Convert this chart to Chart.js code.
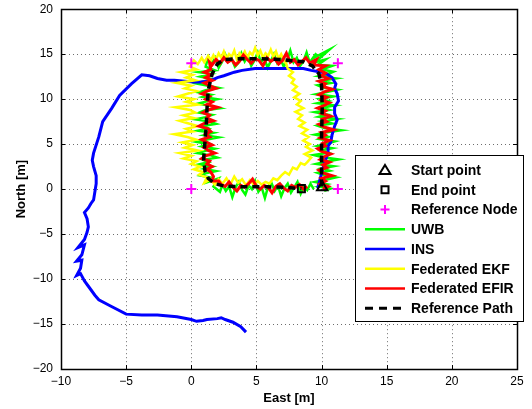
<!DOCTYPE html>
<html>
<head>
<meta charset="utf-8">
<script src="https://cdn.jsdelivr.net/npm/chart.js@4.4.0/dist/chart.umd.min.js"></script>
<style>
  html, body { margin: 0; padding: 0; background: #fff; }
  #wrap { width: 532px; height: 409px; }
</style>
</head>
<body>
<div id="wrap"><canvas id="c" width="532" height="409"></canvas></div>
<script>
// axis ranges and ticks (metres)
const xTicks = [-10, -5, 0, 5, 10, 15, 20, 25];
const yTicks = [-20, -15, -10, -5, 0, 5, 10, 15, 20];

const startPoint = [10.05, 0.2];
const endPoint = [8.45, 0.05];
const refNodes = [[0, 0], [0, 14], [11.25, 14], [11.25, 0]];

// UWB only solution
const uwbPath = [
  [10.2,-0.2],[10.7,0.05],[9.8,0.3],[10.4,0.55],[9.5,0.8],[10.3,1.05],[11.1,1.3],[10.2,1.55],[9.7,1.8],[10.6,2.05],
  [10.0,2.3],[10.9,2.55],[9.6,2.8],[10.3,3.05],[11.3,3.3],[10.1,3.55],[9.4,3.8],[10.5,4.05],[10.0,4.3],[10.8,4.55],
  [9.7,4.8],[10.4,5.05],[11.0,5.3],[9.9,5.55],[10.5,5.8],[9.5,6.05],[10.3,6.3],[11.5,6.55],[10.2,6.8],[9.7,7.05],
  [10.8,7.3],[10.1,7.55],[11.2,7.8],[9.8,8.05],[10.4,8.3],[9.5,8.55],[10.6,8.8],[10.0,9.05],[11.0,9.3],[9.7,9.55],
  [10.5,9.8],[9.9,10.05],[10.9,10.3],[9.6,10.55],[10.4,10.8],[11.2,11.05],[10.1,11.3],[9.7,11.55],[10.7,11.8],[10.0,12.05],
  [11.1,12.3],[9.8,12.55],[10.5,12.8],[10.9,13.05],[10.0,13.3],[10.8,13.7],[9.7,13.8],[10.3,14.4],[9.5,14.1],[10.6,15.5],
  [9.3,14.5],[9.6,15.1],[9.1,14.0],[8.85,15.2],[8.6,14.2],[8.35,13.7],[8.1,14.6],[7.85,14.1],[7.6,15.4],[7.35,14.3],
  [7.1,13.6],[6.85,14.5],[6.6,14.0],[6.35,15.0],[6.1,14.2],[5.85,13.5],[5.6,14.6],[5.35,14.1],[5.1,15.2],[4.85,14.3],
  [4.6,13.7],[4.35,14.8],[4.1,14.2],[3.85,15.1],[3.6,14.0],[3.35,13.6],[3.1,14.5],[2.85,14.2],[2.6,15.0],[2.35,14.1],
  [2.1,13.5],[1.85,14.6],[1.6,14.0],[1.3,14.7],[1.1,13.6],[1.8,13.2],[0.6,13.0],[1.5,12.8],[0.7,12.5],[1.6,12.25],
  [1.0,12.0],[0.4,11.75],[1.3,11.5],[2.1,11.25],[1.1,11.0],[0.6,10.75],[1.5,10.5],[0.9,10.25],[2.0,10.0],[1.2,9.75],
  [0.5,9.5],[1.4,9.25],[2.2,9.0],[1.0,8.75],[0.6,8.5],[1.6,8.25],[1.1,8.0],[0.3,7.75],[1.4,7.5],[1.9,7.25],
  [0.9,7.0],[1.3,6.75],[0.5,6.5],[1.7,6.25],[1.0,6.0],[2.1,5.75],[1.2,5.5],[0.4,5.25],[1.3,5.0],[0.8,4.75],
  [1.8,4.5],[1.1,4.25],[0.5,4.0],[1.5,3.75],[2.0,3.5],[0.9,3.25],[1.3,3.0],[0.6,2.75],[1.6,2.5],[1.0,2.25],
  [1.9,2.0],[1.1,1.75],[0.7,1.5],[1.6,1.25],[1.3,0.8],[2.1,1.2],[1.7,0.3],[2.2,-0.3],[2.4,0.5],[2.65,-0.2],
  [2.9,0.3],[3.15,-0.9],[3.4,0.2],[3.65,0.8],[3.9,-0.1],[4.15,-0.6],[4.4,0.4],[4.65,0.0],[4.9,0.9],[5.15,-0.3],
  [5.4,0.2],[5.65,-1.0],[5.9,0.3],[6.15,0.7],[6.4,-0.2],[6.65,0.4],[6.9,-0.8],[7.15,0.1],[7.4,0.6],[7.65,-0.4],
  [7.9,0.2],[8.15,0.8],[8.4,-0.5],[8.65,0.3],[8.9,-0.1],[9.15,0.6],[9.4,0.0]
];

// INS only solution (drifts away)
const insPath = [
  [9.7,0.1],[9.9,1.2],[10.1,2.3],[10.3,3.2],[10.5,4.1],[10.5,4.8],[10.7,5.2],[10.8,6.0],[11.0,7.0],[11.2,7.7],
  [11.0,8.4],[11.0,9.1],[11.3,9.8],[11.2,10.6],[11.0,11.2],[11.1,11.7],[10.8,12.4],[10.4,12.8],[10.0,13.0],[9.2,13.2],
  [8.6,13.4],[7.3,13.4],[6.0,13.4],[4.9,13.4],[3.9,13.2],[3.3,13.0],[2.5,12.6],[2.0,12.4],[1.4,12.0],[0.7,11.9],
  [0.2,11.9],[-0.5,12.0],[-1.3,12.1],[-1.9,12.1],[-2.6,12.3],[-3.2,12.6],[-3.8,12.7],[-4.6,11.7],[-5.5,10.4],[-6.1,9.0],
  [-6.8,7.5],[-7.1,5.8],[-7.5,4.0],[-7.6,3.2],[-7.5,2.5],[-7.3,1.5],[-7.3,0.6],[-7.5,-1.2],[-7.7,-1.6],[-7.9,-2.1],
  [-8.2,-2.6],[-8.0,-3.3],[-7.9,-4.2],[-8.0,-4.8],[-8.2,-5.6],[-8.7,-6.5],[-8.2,-6.2],[-8.4,-7.3],[-8.8,-8.0],[-8.4,-7.9],
  [-8.5,-8.8],[-8.8,-9.6],[-8.5,-9.4],[-8.2,-10.2],[-7.9,-10.8],[-7.4,-11.8],[-7.1,-12.3],[-6.2,-13.0],[-5.0,-13.9],[-3.8,-14.0],
  [-2.6,-14.0],[-1.1,-14.2],[0.0,-14.5],[0.4,-14.7],[0.9,-14.6],[1.2,-14.5],[2.0,-14.4],[2.3,-14.3],[2.6,-14.5],[3.2,-14.8],
  [3.8,-15.3],[4.2,-15.9]
];

// federated EKF
const ekfPath = [
  [8.9,3.0],[9.2,3.5],[8.7,3.9],[9.3,4.3],[8.8,4.7],[9.1,5.0],[8.6,5.4],[9.0,5.8],[8.5,6.2],[8.9,6.6],
  [8.3,7.0],[8.7,7.4],[8.2,7.8],[8.5,8.2],[8.0,8.6],[8.6,9.0],[8.1,9.4],[8.4,9.8],[7.9,10.2],[8.3,10.6],
  [7.8,11.0],[8.1,11.4],[7.7,11.8],[7.9,12.2],[7.5,12.6],[7.8,13.0],[7.4,13.4],[7.3,13.9],[7.1,14.4],[6.9,15.0],
  [6.7,14.5],[6.5,15.3],[6.3,14.7],[6.1,15.5],[5.9,14.8],[5.7,15.1],[5.5,14.6],[5.3,15.4],[5.1,14.9],[4.9,15.7],
  [4.7,14.9],[4.5,15.2],[4.3,14.6],[4.1,15.3],[3.9,14.8],[3.7,15.1],[3.5,14.4],[3.3,15.4],[3.1,14.7],[2.9,15.0],
  [2.7,14.5],[2.5,15.3],[2.3,14.6],[2.1,15.1],[1.9,14.4],[1.7,14.9],[1.5,14.3],[1.3,14.8],[1.0,14.1],[0.8,14.6],
  [0.5,13.9],[0.2,14.3],[-0.1,13.6],[0.4,13.3],[-0.8,13.0],[0.1,12.7],[-0.4,12.4],[0.3,12.1],[-1.1,11.8],[0.0,11.5],
  [-0.5,11.2],[0.4,10.9],[-0.3,10.6],[-1.0,10.3],[0.2,10.0],[-0.4,9.7],[0.5,9.4],[-1.2,9.1],[-0.1,8.8],[0.3,8.5],
  [-0.6,8.2],[0.2,7.9],[-0.9,7.6],[-0.2,7.3],[0.5,7.0],[-0.4,6.7],[0.1,6.4],[-1.3,6.1],[-0.3,5.8],[0.4,5.5],
  [-0.7,5.2],[0.1,4.9],[-0.5,4.6],[0.5,4.3],[-0.9,4.0],[0.0,3.7],[-0.6,3.4],[0.4,3.1],[0.0,2.8],[0.7,2.5],
  [0.2,2.2],[0.9,1.9],[0.6,1.6],[1.2,1.3],[1.0,0.7],[1.5,1.1],[1.8,0.5],[2.1,1.1],[2.4,0.6],[2.7,1.2],
  [3.0,0.5],[3.3,1.4],[3.6,0.7],[3.9,1.1],[4.2,0.4],[4.5,1.0],[4.8,0.5],[5.1,0.9],[5.4,0.5],[5.7,0.8],
  [6.0,0.6],[6.3,1.2],[6.6,1.0],[6.9,1.5],[7.2,1.9],[7.5,1.6],[7.8,2.4],[8.1,2.2],[8.4,2.9],[8.7,2.7],
  [8.9,3.0]
];

// federated EFIR
const efirPath = [
  [10.1,0.0],[10.5,0.3],[9.9,0.6],[10.3,0.9],[10.0,1.2],[10.8,1.5],[10.1,1.8],[9.8,2.1],[10.4,2.4],[10.1,2.7],
  [10.6,3.0],[9.9,3.3],[10.2,3.6],[10.7,3.9],[10.0,4.2],[9.7,4.5],[10.3,4.8],[10.1,5.1],[10.6,5.4],[9.9,5.7],
  [10.3,6.0],[10.0,6.3],[10.9,6.6],[10.2,6.9],[9.8,7.2],[10.4,7.5],[10.1,7.8],[10.7,8.1],[10.0,8.4],[10.3,8.7],
  [9.7,9.0],[10.2,9.3],[10.6,9.6],[10.0,9.9],[10.4,10.2],[9.8,10.5],[10.2,10.8],[10.8,11.1],[10.1,11.4],[10.3,11.7],
  [9.8,12.0],[10.5,12.3],[10.0,12.6],[10.3,12.9],[9.8,13.3],[10.3,13.7],[9.4,13.8],[9.6,14.4],[9.1,14.0],[8.8,14.6],
  [8.5,14.2],[8.2,13.8],[7.9,14.4],[7.6,14.1],[7.3,15.1],[7.0,14.3],[6.7,13.9],[6.4,14.5],[6.1,14.2],[5.8,14.6],
  [5.5,13.7],[5.2,14.3],[4.9,14.5],[4.6,14.0],[4.3,14.4],[4.0,14.9],[3.7,14.2],[3.4,13.8],[3.1,14.4],[2.8,14.1],
  [2.5,14.6],[2.2,14.0],[1.9,14.4],[1.6,13.8],[1.4,14.1],[1.5,13.3],[1.0,13.0],[1.5,12.7],[1.1,12.4],[1.6,12.1],
  [1.0,11.8],[1.4,11.5],[1.9,11.2],[1.2,10.9],[0.8,10.6],[1.4,10.3],[1.1,10.0],[1.6,9.7],[1.2,9.4],[2.0,9.1],
  [1.3,8.8],[0.9,8.5],[1.4,8.2],[1.2,7.9],[1.7,7.6],[1.0,7.3],[0.6,7.0],[1.3,6.7],[1.5,6.4],[1.1,6.1],
  [1.4,5.8],[0.8,5.5],[1.2,5.2],[1.6,4.9],[1.0,4.6],[1.3,4.3],[1.8,4.0],[1.1,3.7],[0.8,3.4],[1.4,3.1],
  [1.2,2.8],[1.6,2.5],[1.2,2.2],[1.5,1.9],[1.7,1.4],[1.6,0.9],[2.1,0.9],[2.3,0.5],[2.6,0.3],[2.9,0.8],
  [3.2,0.2],[3.5,-0.2],[3.8,0.4],[4.1,0.2],[4.4,0.6],[4.7,1.1],[5.0,0.3],[5.3,0.0],[5.6,0.4],[5.9,0.2],
  [6.2,-0.4],[6.5,0.3],[6.8,0.6],[7.1,0.1],[7.4,-0.2],[7.7,0.4],[8.0,0.2],[8.3,0.5],[8.6,0.0],[8.9,0.3]
];

// reference trajectory
const refPath = [
  [10.0,0.3],[10.0,3.0],[10.0,6.0],[10.05,9.0],[10.0,11.5],[9.8,12.8],[9.3,13.7],[8.6,14.15],[7.0,14.4],[5.3,14.5],
  [3.5,14.5],[2.5,14.4],[2.0,13.9],[1.6,12.8],[1.3,11.0],[1.2,8.8],[1.15,7.1],[1.05,5.3],[0.95,3.4],[1.05,2.0],
  [1.3,1.2],[1.8,0.6],[2.5,0.35],[3.9,0.26],[5.8,0.26],[7.2,0.2],[8.45,0.05]
];

const legendLabels = ['Start point', 'End point', 'Reference Node', 'UWB', 'INS',
  'Federated EKF', 'Federated EFIR', 'Reference Path'];

const toXY = (pts) => pts.map(([x, y]) => ({ x, y }));
const fmt = (v) => String(v).replace('-', '\u2212');

const lineSet = (label, pts, color, width, order, dash) => ({
  label, data: toXY(pts), showLine: true, pointRadius: 0,
  borderColor: color, borderWidth: width, borderDash: dash || [],
  borderJoinStyle: 'miter', tension: 0, order
});
const markSet = (label, pts, style, radius, color, order) => ({
  label, data: toXY(pts), showLine: false, pointStyle: style, pointRadius: radius,
  pointBorderColor: color, pointBackgroundColor: 'rgba(0,0,0,0)', pointBorderWidth: 2, order
});

// MATLAB style box, inward ticks, dotted grid and legend
const matlabAxes = {
  id: 'matlabAxes',
  beforeDatasetsDraw(chart) {
    const { ctx, chartArea: a, scales: { x, y } } = chart;
    ctx.save();
    ctx.strokeStyle = 'rgba(60,60,60,0.75)';
    ctx.lineWidth = 1;
    ctx.setLineDash([1, 3]);
    xTicks.forEach(v => {
      const px = Math.round(x.getPixelForValue(v)) + 0.5;
      ctx.beginPath(); ctx.moveTo(px, a.top); ctx.lineTo(px, a.bottom); ctx.stroke();
    });
    yTicks.forEach(v => {
      const py = Math.round(y.getPixelForValue(v)) + 0.5;
      ctx.beginPath(); ctx.moveTo(a.left, py); ctx.lineTo(a.right, py); ctx.stroke();
    });
    ctx.restore();
  },
  afterDraw(chart) {
    const { ctx, chartArea: a, scales: { x, y } } = chart;
    ctx.save();
    ctx.strokeStyle = '#000';
    ctx.lineWidth = 1;
    ctx.setLineDash([]);
    const t = 4;
    xTicks.forEach(v => {
      const px = Math.round(x.getPixelForValue(v)) + 0.5;
      ctx.beginPath();
      ctx.moveTo(px, a.bottom); ctx.lineTo(px, a.bottom - t);
      ctx.moveTo(px, a.top); ctx.lineTo(px, a.top + t);
      ctx.stroke();
    });
    yTicks.forEach(v => {
      const py = Math.round(y.getPixelForValue(v)) + 0.5;
      ctx.beginPath();
      ctx.moveTo(a.left, py); ctx.lineTo(a.left + t, py);
      ctx.moveTo(a.right, py); ctx.lineTo(a.right - t, py);
      ctx.stroke();
    });
    ctx.lineWidth = 1.5;
    ctx.strokeRect(Math.round(a.left) + 0.5, Math.round(a.top) + 0.5,
      Math.round(a.right - a.left), Math.round(a.bottom - a.top));

    // legend box
    const bx = 355, by = 155, bw = 168, bh = 166, rowH = 19.75, row0 = 170;
    ctx.fillStyle = '#fff';
    ctx.fillRect(bx, by, bw, bh);
    ctx.lineWidth = 1;
    ctx.strokeRect(bx + 0.5, by + 0.5, bw, bh);
    const sx0 = 365, sx1 = 405, mx = 385;
    const lineColors = { 'UWB': '#00ff00', 'INS': '#0000ff', 'Federated EKF': '#ffff00',
      'Federated EFIR': '#ff0000', 'Reference Path': '#000000' };
    ctx.font = 'bold 14px "Liberation Sans", Arial, sans-serif';
    ctx.textBaseline = 'middle';
    legendLabels.forEach((lab, i) => {
      const ry = row0 + i * rowH;
      ctx.save();
      if (lab === 'Start point') {
        ctx.strokeStyle = '#000'; ctx.lineWidth = 2;
        ctx.beginPath();
        ctx.moveTo(mx, ry - 5); ctx.lineTo(mx + 5.5, ry + 4); ctx.lineTo(mx - 5.5, ry + 4);
        ctx.closePath(); ctx.stroke();
      } else if (lab === 'End point') {
        ctx.strokeStyle = '#000'; ctx.lineWidth = 2;
        ctx.strokeRect(mx - 3.5, ry - 3.5, 7, 7);
      } else if (lab === 'Reference Node') {
        ctx.strokeStyle = '#ff00ff'; ctx.lineWidth = 2;
        ctx.beginPath();
        ctx.moveTo(mx - 4.5, ry); ctx.lineTo(mx + 4.5, ry);
        ctx.moveTo(mx, ry - 4.5); ctx.lineTo(mx, ry + 4.5);
        ctx.stroke();
      } else {
        ctx.strokeStyle = lineColors[lab];
        ctx.lineWidth = lab === 'Reference Path' ? 3 : 2.5;
        if (lab === 'Reference Path') ctx.setLineDash([8, 6]);
        ctx.beginPath(); ctx.moveTo(sx0, ry); ctx.lineTo(sx1, ry); ctx.stroke();
      }
      ctx.restore();
      ctx.fillStyle = '#000';
      ctx.fillText(lab, 411, ry + 1);
    });
    ctx.restore();
  }
};

const tickFont = { family: '"Liberation Sans", Arial, sans-serif', size: 12 };
const titleFont = { family: '"Liberation Sans", Arial, sans-serif', size: 13, weight: 'bold' };

new Chart(document.getElementById('c').getContext('2d'), {
  type: 'scatter',
  data: {
    datasets: [
      markSet('Start point', [startPoint], 'triangle', 6, '#000', 0),
      markSet('End point', [endPoint], 'rect', 5, '#000', 1),
      markSet('Reference Node', refNodes, 'cross', 5, '#ff00ff', 2),
      lineSet('UWB', uwbPath, '#00ff00', 2.5, 7),
      lineSet('INS', insPath, '#0000ff', 3, 6),
      lineSet('Federated EKF', ekfPath, '#ffff00', 2.5, 5),
      lineSet('Federated EFIR', efirPath, '#ff0000', 3, 4),
      lineSet('Reference Path', refPath, '#000000', 3.5, 3, [7, 5])
    ]
  },
  options: {
    responsive: false,
    animation: false,
    layout: { padding: { top: 9, right: 15, left: 0, bottom: 0 } },
    plugins: { legend: { display: false }, tooltip: { enabled: false } },
    scales: {
      x: {
        type: 'linear', min: -10, max: 25,
        afterBuildTicks: (s) => { s.ticks = xTicks.map(v => ({ value: v })); },
        afterFit: (s) => { s.height = 40; },
        grid: { display: false, drawTicks: false },
        border: { display: false },
        ticks: { color: '#000', font: tickFont, padding: 5, maxRotation: 0, callback: fmt },
        title: { display: true, text: 'East [m]', color: '#000', font: titleFont, padding: { top: 0, bottom: 3 } }
      },
      y: {
        type: 'linear', min: -20, max: 20,
        afterBuildTicks: (s) => { s.ticks = yTicks.map(v => ({ value: v })); },
        afterFit: (s) => { s.width = 61; },
        grid: { display: false, drawTicks: true, tickLength: 6 },
        border: { display: false },
        ticks: { color: '#000', font: tickFont, padding: 2, callback: fmt },
        title: { display: true, text: 'North [m]', color: '#000', font: titleFont, padding: { top: 14, bottom: 0 } }
      }
    }
  },
  plugins: [matlabAxes]
});
</script>
</body>
</html>
